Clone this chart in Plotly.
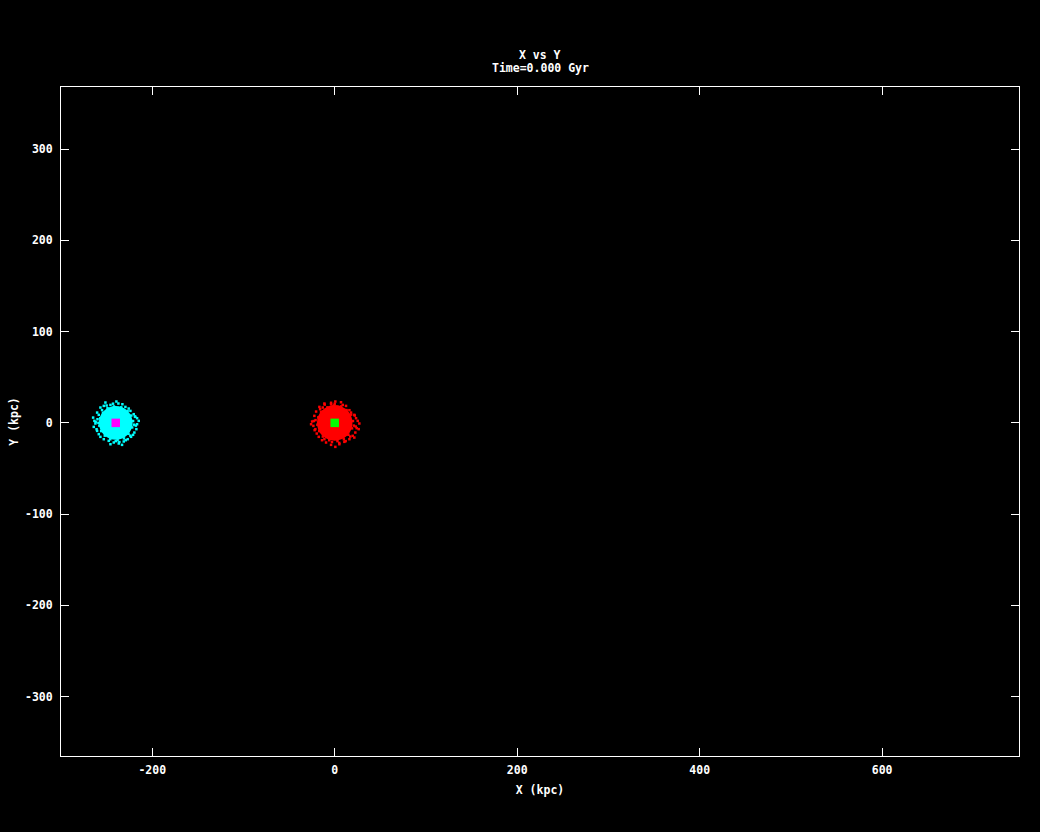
import plotly.graph_objects as go

# ---- data ----
galaxy_names = ["Galaxy 2", "Galaxy 1"]
galaxy_x = [-240.0, 0.0]          # centre positions (kpc)
galaxy_y = [0.0, 0.0]
core_radius = [18.5, 19.5]        # dense core radius (kpc)
disc_colors = ["#00ffff", "#ff0000"]
centre_colors = ["#ff00ff", "#00ff00"]

# fringe particles, offsets from the centre (kpc)
cyan_dx = [-11.3, 0.7, 2.9, 7.3, -5.8, -16.8, -13.1, 10.6, 14.2, 16.1, -20.4, -18.6,
           19.7, 21.5, 23.4, -23.4, -22.3, -24.1, 23.4, 22.6, 20.4, -20.4, -18.6, -16.8,
           -13.1, -7.7, -2.2, 3.3, 8.8, 13.1, 16.8, -5.8, 6.9, 19.0, -24.8, 25.2,
           -17, -18, -16, -12, -6, 2, 9, 14, 18, 19, 17, 13, 6, -2, -9, -14, -19, 0, -20, 20,
           -21, 21, -10, 11, -3, 4, -15, 16, -22, 22]
cyan_dy = [22.3, 23.4, 21.2, 20.4, 19.7, 16.8, 18.6, 17.5, 15.7, 13.1, 11.3, 8.8,
           9.5, 6.6, 5.1, 2.2, -0.7, -4.4, -1.5, -6.9, -10.6, -8.8, -12.4, -15.3,
           -17.9, -19.7, -21.5, -22.6, -20.4, -17.9, -15.3, -23.4, -24.1, -13.1, 5.8, 2.2,
           5, -3, -9, -14, -18, -19, -17, -12, -5, 2, 8, 13, 17, 18, 16, 11, 0, -20, 4, -2,
           -7, 7, 19, -19, 21, -21, 14, -14, 1, -3]
red_dx = [0.7, 6.9, -11.3, -4.0, 8.8, -16.8, 12.4, -13.1, 16.1, 17.9, -20.4, -22.3,
          21.5, 23.4, -24.8, 25.2, -23.4, 27.0, 24.1, -21.2, 22.6, -19.7, 19.7, -17.5,
          16.1, -13.9, 10.6, -9.5, 5.1, -4.0, 0.7, -11.3, 21.5, -25.9, 26.3,
          -18, -19, -17, -13, -6, 3, 10, 15, 19, 20, 18, 13, 7, -1, -8, -15, -21, 21, 0, -3,
          -22, 22, -11, 12, -4, 5, -16, 17, -23, 23]
red_dy = [23.4, 22.6, 21.2, 20.4, 19.7, 17.5, 18.6, 16.8, 13.9, 11.3, 12.4, 7.7,
          8.8, 5.1, 1.5, 2.2, -3.3, -0.7, -5.8, -6.9, -10.6, -11.7, -14.2, -15.3,
          -17.9, -19.0, -20.8, -21.5, -23.4, -24.1, -26.3, -17.9, -16.1, -1.5, -6.9,
          6, -2, -9, -15, -19, -20, -18, -13, -6, 2, 9, 14, 18, 19, 17, 12, 3, -3, 21, -21,
          -8, 8, 20, -20, 22, -22, 15, -15, 2, -4]

x_tick_vals = [-200, 0, 200, 400, 600]
x_tick_text = ["-200", "0", "200", "400", "600"]
y_tick_vals = [-300, -200, -100, 0, 100, 200, 300]
y_tick_text = ["-300", "-200", "-100", "0", "100", "200", "300"]

title_line1 = "X vs Y"
title_line2 = "Time=0.000 Gyr"

# ---- figure ----
FONT = "DejaVu Sans Mono"
fig = go.Figure()

fringe = [(cyan_dx, cyan_dy), (red_dx, red_dy)]
shapes = []
for i in range(2):
    cx, cy, r = galaxy_x[i], galaxy_y[i], core_radius[i]
    shapes.append(dict(type="circle", xref="x", yref="y",
                       x0=cx - r, x1=cx + r, y0=cy - r, y1=cy + r,
                       fillcolor=disc_colors[i], line=dict(width=0), layer="below"))
    dx, dy = fringe[i]
    fig.add_trace(go.Scatter(
        x=[cx + d for d in dx], y=[cy + d for d in dy], mode="markers",
        marker=dict(symbol="square", size=2.5, color=disc_colors[i], line=dict(width=0)),
        name=galaxy_names[i], showlegend=False, hoverinfo="skip"))

fig.add_trace(go.Scatter(
    x=galaxy_x, y=galaxy_y, mode="markers",
    marker=dict(symbol="square", size=8.5, color=centre_colors, line=dict(width=0)),
    showlegend=False))

tick_font = dict(family=FONT, size=11.5, color="white", weight="bold")
axis_common = dict(showgrid=False, zeroline=False, showline=True, linecolor="white",
                   linewidth=1, mirror="ticks", ticks="inside", ticklen=8,
                   tickwidth=1, tickcolor="white", tickfont=tick_font, automargin=False)

fig.update_layout(
    width=1040, height=832,
    paper_bgcolor="black", plot_bgcolor="black",
    margin=dict(l=61, r=21, t=87, b=76),
    shapes=shapes,
    xaxis=dict(range=[-300, 750], tickvals=x_tick_vals, ticktext=x_tick_text,
               ticklabelstandoff=3,
               title=dict(text="X (kpc)", standoff=10, font=tick_font),
               **axis_common),
    yaxis=dict(range=[-365, 368], tickvals=y_tick_vals, ticktext=y_tick_text,
               ticklabelstandoff=5,
               title=dict(text="Y (kpc)", standoff=3, font=tick_font),
               **axis_common),
    annotations=[
        dict(text=title_line1, xref="paper", yref="paper", x=0.5, y=1 + 32 / 669,
             xanchor="center", yanchor="middle", showarrow=False, font=tick_font),
        dict(text=title_line2, xref="paper", yref="paper", x=0.5, y=1 + 19 / 669,
             xanchor="center", yanchor="middle", showarrow=False, font=tick_font),
    ],
)

fig.write_html("out.html",
               config={"displayModeBar": False},
               post_script="document.body.style.margin='0';"
                           "document.body.style.background='black';"
                           "document.body.style.overflow='hidden';")
